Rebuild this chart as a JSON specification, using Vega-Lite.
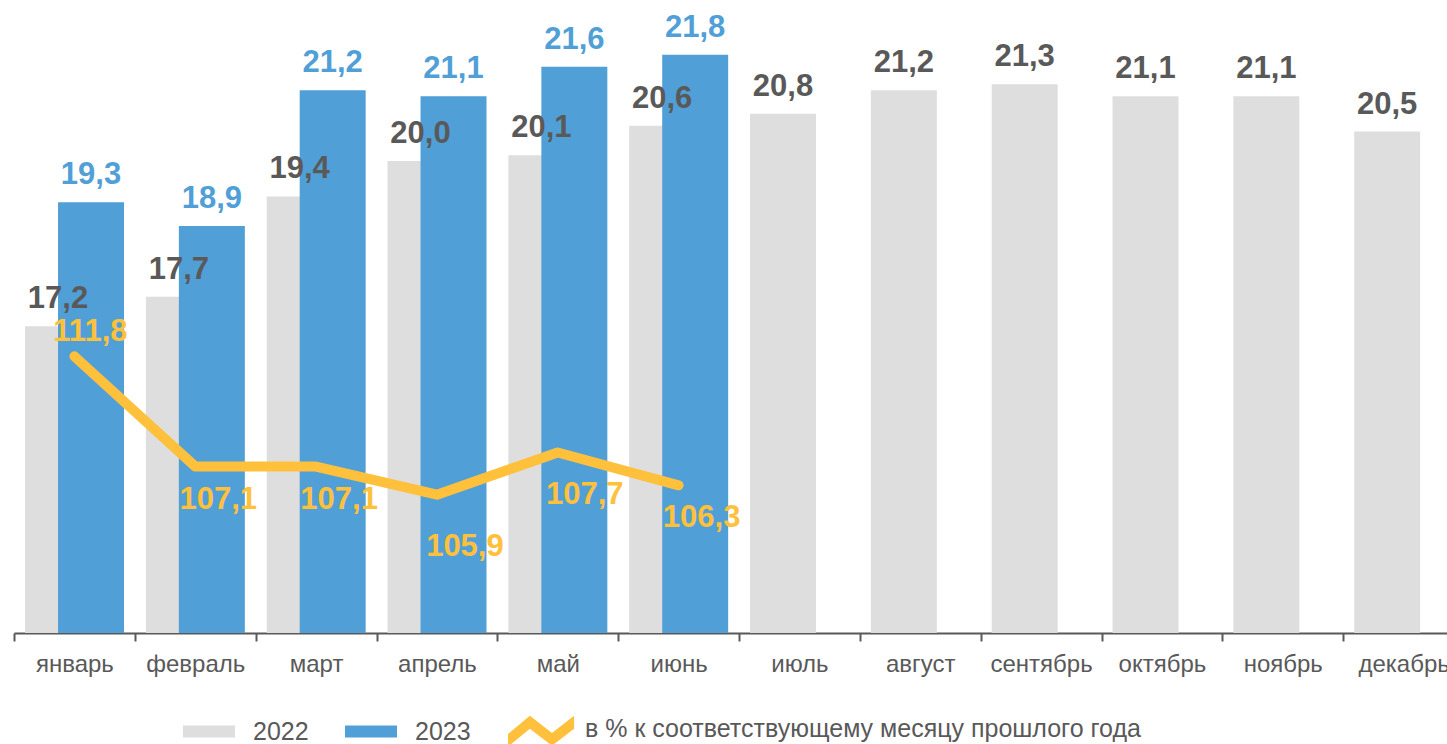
{
  "$schema": "https://vega.github.io/schema/vega-lite/v6.json",
  "width": 1433,
  "height": 633,
  "autosize": {"type": "none"},
  "padding": {"left": 14, "top": 0, "right": 0, "bottom": 111},
  "background": "white",
  "config": {
    "view": {"stroke": null},
    "font": "Liberation Sans",
    "locale": {"number": {"decimal": ",", "thousands": " ", "grouping": [3], "currency": ["", ""]}}
  },
  "datasets": {
    "bars": [
      {"month": "январь", "year": "2022", "value": 17.2},
      {"month": "февраль", "year": "2022", "value": 17.7},
      {"month": "март", "year": "2022", "value": 19.4},
      {"month": "апрель", "year": "2022", "value": 20.0},
      {"month": "май", "year": "2022", "value": 20.1},
      {"month": "июнь", "year": "2022", "value": 20.6},
      {"month": "июль", "year": "2022", "value": 20.8},
      {"month": "август", "year": "2022", "value": 21.2},
      {"month": "сентябрь", "year": "2022", "value": 21.3},
      {"month": "октябрь", "year": "2022", "value": 21.1},
      {"month": "ноябрь", "year": "2022", "value": 21.1},
      {"month": "декабрь", "year": "2022", "value": 20.5},
      {"month": "январь", "year": "2023", "value": 19.3},
      {"month": "февраль", "year": "2023", "value": 18.9},
      {"month": "март", "year": "2023", "value": 21.2},
      {"month": "апрель", "year": "2023", "value": 21.1},
      {"month": "май", "year": "2023", "value": 21.6},
      {"month": "июнь", "year": "2023", "value": 21.8}
    ],
    "pct": [
      {"month": "январь", "pct": 111.8},
      {"month": "февраль", "pct": 107.1},
      {"month": "март", "pct": 107.1},
      {"month": "апрель", "pct": 105.9},
      {"month": "май", "pct": 107.7},
      {"month": "июнь", "pct": 106.3}
    ]
  },
  "layer": [
    {
      "data": {"name": "bars"},
      "encoding": {
        "x": {
          "field": "month", "type": "nominal", "sort": null, "title": null,
          "scale": {
            "domain": ["январь", "февраль", "март", "апрель", "май", "июнь", "июль", "август", "сентябрь", "октябрь", "ноябрь", "декабрь"],
            "range": [0, 1450], "paddingInner": 0, "paddingOuter": 0
          },
          "axis": {
            "tickBand": "extent", "domainColor": "#595959", "domainWidth": 2,
            "tickColor": "#595959", "tickWidth": 2, "tickSize": 8,
            "labelFontSize": 24, "labelColor": "#595959", "labelPadding": 11,
            "labelAngle": 0, "labelFont": "Liberation Sans"
          }
        },
        "y": {
          "field": "value", "type": "quantitative",
          "scale": {"domain": [12, 22.73], "zero": false, "nice": false},
          "axis": null
        }
      },
      "layer": [
        {
          "transform": [{"filter": "datum.year === '2022'"}],
          "mark": {"type": "bar", "width": {"band": 0.546}, "xOffset": -16.4, "clip": true},
          "encoding": {
            "color": {
              "field": "year", "type": "nominal",
              "scale": {
                "domain": ["2022", "2023", "в % к соответствующему месяцу прошлого года"],
                "range": ["#dedede", "#519fd7", "#ffc13b"]
              },
              "legend": {
                "orient": "none", "legendX": 169, "legendY": 703,
                "direction": "horizontal", "title": null,
                "labelFontSize": 25, "labelColor": "#595959", "labelFont": "Liberation Sans",
                "symbolSize": 2704, "symbolStrokeWidth": 0, "labelOffset": 18, "columnPadding": 36,
                "labelLimit": 1000, "padding": 0,
                "encode": {
                  "symbols": {
                    "update": {
                      "shape": {"signal": "datum.value === '2022' || datum.value === '2023' ? 'M-1,-0.23H1V0.23H-1Z' : 'M-0.96,0.18L-0.12,-0.52L0.73,0.14L1.58,-0.52L1.58,-0.02L0.73,0.63L-0.12,-0.02L-0.96,0.67Z'"},
                      "strokeWidth": {"value": 0},
                      "opacity": {"value": 1}
                    }
                  },
                  "labels": {
                    "update": {
                      "dx": {"signal": "datum.value === '2022' || datum.value === '2023' ? 0 : 8"}
                    }
                  }
                }
              }
            }
          }
        },
        {
          "transform": [{"filter": "datum.year === '2023'"}],
          "mark": {"type": "bar", "width": {"band": 0.546}, "xOffset": 16.6, "clip": true},
          "encoding": {"color": {"field": "year", "type": "nominal"}}
        },
        {
          "transform": [{"filter": "datum.year === '2022'"}],
          "mark": {"type": "text", "xOffset": -16.4, "dy": -18, "baseline": "alphabetic", "fontSize": 31, "fontWeight": "bold", "color": "#595959", "font": "Liberation Sans"},
          "encoding": {"text": {"field": "value", "type": "quantitative", "format": ".1f"}}
        },
        {
          "transform": [{"filter": "datum.year === '2023'"}],
          "mark": {"type": "text", "xOffset": 16.6, "dy": -18, "baseline": "alphabetic", "fontSize": 31, "fontWeight": "bold", "color": "#519fd7", "font": "Liberation Sans"},
          "encoding": {"text": {"field": "value", "type": "quantitative", "format": ".1f"}}
        }
      ]
    },
    {
      "data": {"name": "pct"},
      "encoding": {
        "x": {"field": "month", "type": "nominal", "sort": null},
        "y": {
          "field": "pct", "type": "quantitative",
          "scale": {"domain": [100, 127], "zero": false, "nice": false},
          "axis": null
        }
      },
      "layer": [
        {
          "mark": {"type": "line", "strokeWidth": 10, "strokeCap": "round", "strokeJoin": "round"},
          "encoding": {"color": {"datum": "в % к соответствующему месяцу прошлого года", "type": "nominal"}}
        },
        {
          "transform": [{"filter": "datum.month === 'январь'"}],
          "mark": {"type": "text", "dx": 16, "dy": -15, "baseline": "alphabetic", "fontSize": 31, "fontWeight": "bold", "color": "#ffc13b", "font": "Liberation Sans"},
          "encoding": {"text": {"field": "pct", "type": "quantitative", "format": ".1f"}}
        },
        {
          "transform": [{"filter": "datum.month === 'февраль' || datum.month === 'март' || datum.month === 'июнь'"}],
          "mark": {"type": "text", "dx": 23, "dy": 42, "baseline": "alphabetic", "fontSize": 31, "fontWeight": "bold", "color": "#ffc13b", "font": "Liberation Sans"},
          "encoding": {"text": {"field": "pct", "type": "quantitative", "format": ".1f"}}
        },
        {
          "transform": [{"filter": "datum.month === 'апрель'"}],
          "mark": {"type": "text", "dx": 28, "dy": 61, "baseline": "alphabetic", "fontSize": 31, "fontWeight": "bold", "color": "#ffc13b", "font": "Liberation Sans"},
          "encoding": {"text": {"field": "pct", "type": "quantitative", "format": ".1f"}}
        },
        {
          "transform": [{"filter": "datum.month === 'май'"}],
          "mark": {"type": "text", "dx": 27, "dy": 52, "baseline": "alphabetic", "fontSize": 31, "fontWeight": "bold", "color": "#ffc13b", "font": "Liberation Sans"},
          "encoding": {"text": {"field": "pct", "type": "quantitative", "format": ".1f"}}
        }
      ]
    }
  ],
  "resolve": {"scale": {"y": "independent"}}
}
